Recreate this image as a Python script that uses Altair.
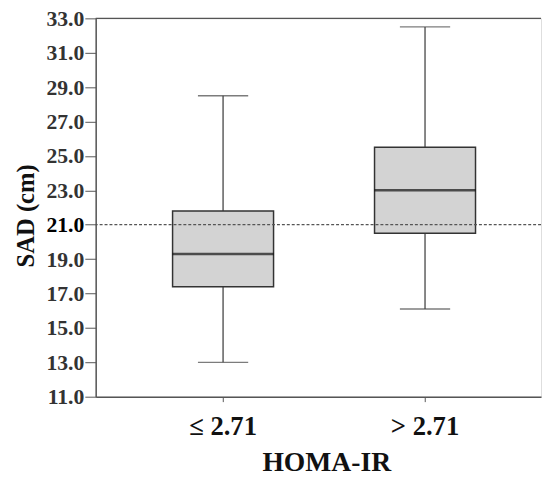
import altair as alt
import pandas as pd

groups = ["≤ 2.71", "> 2.71"]
whisker_low = [13.0, 16.1]
q1 = [17.4, 20.5]
median = [19.3, 23.0]
q3 = [21.8, 25.5]
whisker_high = [28.5, 32.5]
ref_value = 21.0
y_ticks = [11, 13, 15, 17, 19, 21, 23, 25, 27, 29, 31, 33]

df = pd.DataFrame({
    "group": groups, "lo": whisker_low, "q1": q1, "med": median,
    "q3": q3, "hi": whisker_high,
})

FONT = "Liberation Serif"

x_enc = alt.X(
    "group:N", sort=groups,
    scale=alt.Scale(paddingInner=0.5, paddingOuter=0.3525, align=0.54, round=False),
    axis=alt.Axis(
        title="HOMA-IR", labelAngle=0, labelFont=FONT, labelFontSize=27,
        labelFontWeight="bold", labelColor="#111", labelPadding=12,
        tickSize=5, tickColor="#555", domainColor="#555", domainWidth=1.5,
        titleFont=FONT, titleFontSize=28, titleFontWeight="bold",
        titleColor="#111", titlePadding=10, titleX=234,
    ),
)
y_scale = alt.Scale(domain=[11, 33], nice=False, zero=False)
y_axis = alt.Axis(
    values=y_ticks, format=".1f", grid=False, labelFont=FONT, labelFontSize=22,
    labelFontWeight="bold",
    labelColor=alt.expr("datum.value == 21 ? '#000' : '#333'"),
    labelPadding=1, tickSize=11, tickColor="#555", domainColor="#555",
    domainWidth=1.5, title="SAD (cm)", titleFont=FONT, titleFontSize=25,
    titleFontWeight="bold", titleColor="#111", titlePadding=8, titleY=200,
)

base = alt.Chart(df)

whisk_low = base.mark_rule(color="#444", strokeWidth=1.3).encode(
    x=x_enc, y=alt.Y("lo:Q", scale=y_scale, axis=y_axis), y2="q1:Q")
whisk_high = base.mark_rule(color="#444", strokeWidth=1.3).encode(
    x=x_enc, y=alt.Y("q3:Q", scale=y_scale, axis=y_axis), y2="hi:Q")
cap_low = base.mark_tick(color="#444", size=51, thickness=1.3).encode(
    x=x_enc, y=alt.Y("lo:Q", scale=y_scale, axis=y_axis))
cap_high = base.mark_tick(color="#444", size=51, thickness=1.3).encode(
    x=x_enc, y=alt.Y("hi:Q", scale=y_scale, axis=y_axis))
box = base.mark_bar(
    fill="#d3d3d3", stroke="#333", strokeWidth=1.5,
    width=alt.RelativeBandSize(1.0),
).encode(x=x_enc, y=alt.Y("q1:Q", scale=y_scale, axis=y_axis), y2="q3:Q")
med = base.mark_tick(color="#111", size=103, thickness=2.5).encode(
    x=x_enc, y=alt.Y("med:Q", scale=y_scale, axis=y_axis))

ref = alt.Chart(pd.DataFrame({"v": [ref_value]})).mark_rule(
    color="#555", strokeWidth=1.3, strokeDash=[3, 2]
).encode(y=alt.Y("v:Q", scale=y_scale, axis=y_axis))

top = alt.Chart(pd.DataFrame({"v": [33.0]})).mark_rule(
    color="#555", strokeWidth=1.5
).encode(y=alt.Y("v:Q", scale=y_scale, axis=y_axis))

chart = alt.layer(
    whisk_low, whisk_high, cap_low, cap_high, box, ref, med, top
).properties(
    width=452, height=384,
    autosize=alt.AutoSizeParams(type="none"),
    padding={"left": 89, "top": 7, "right": 1, "bottom": 79},
).configure_view(stroke=None).configure(background="white")

chart.save("out.html", embed_options={"renderer": "svg", "actions": False})
